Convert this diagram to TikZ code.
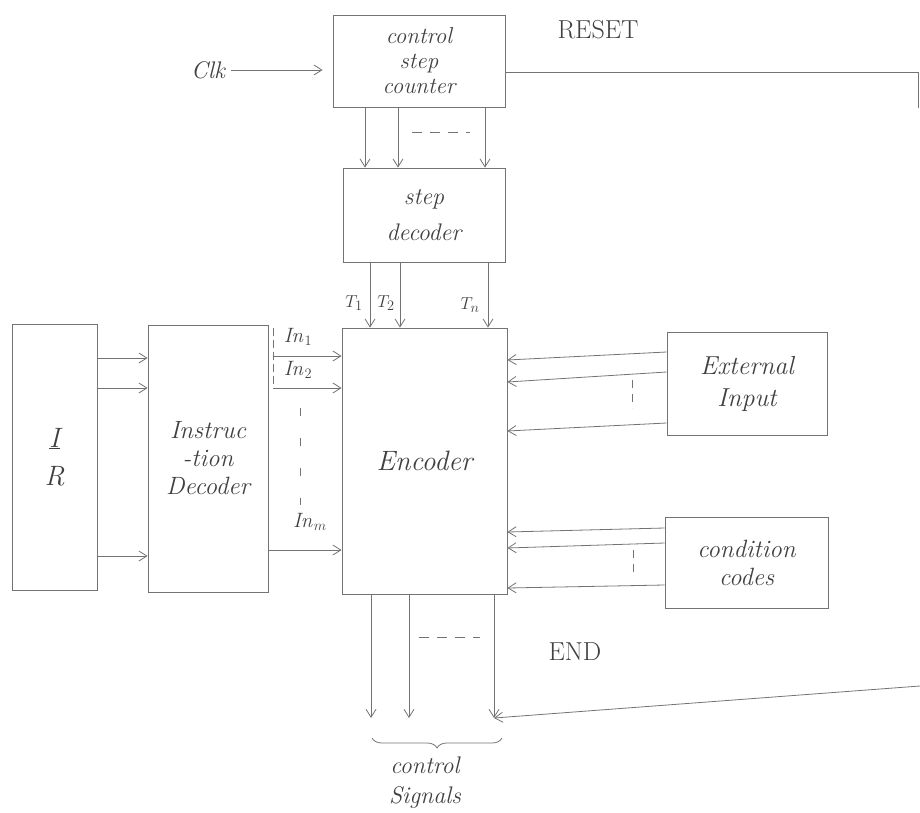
\documentclass[tikz,border=0pt]{standalone}
\usetikzlibrary{arrows.meta,decorations.pathreplacing}
\definecolor{pencil}{gray}{0.45}
\definecolor{ink}{gray}{0.25}
\begin{document}
\begin{tikzpicture}[x=1pt,y=-1pt,
  box/.style={draw=pencil,line width=0.8pt,rectangle,inner sep=0pt,align=center,
    font=\fontsize{25}{28}\selectfont\itshape,text=ink},
  arr/.style={draw=pencil,line width=0.8pt,-{Straight Barb[length=8pt,width=10pt]}},
  ln/.style={draw=pencil,line width=0.8pt},
  dsh/.style={draw=pencil,line width=0.8pt,dash pattern=on 10pt off 8pt},
  lbl/.style={text=ink,font=\fontsize{26}{30}\selectfont,inner sep=0pt}]
\useasboundingbox (0,0) rectangle (920,813);

% boxes
\node[box,minimum width=172,minimum height=92,font=\fontsize{23}{25}\selectfont\itshape] (csc) at (419,61) {control\\step\\counter};
\node[box,minimum width=162,minimum height=94,font=\fontsize{24}{36}\selectfont\itshape] (sd) at (424,215) {step\\decoder};
\node[box,minimum width=165,minimum height=266,font=\fontsize{28}{32}\selectfont\itshape] (enc) at (424.5,461) {Encoder};
\node[box,minimum width=85,minimum height=266,font=\fontsize{28}{32}\selectfont\itshape] (ir) at (54.5,457) {\underline{I}\\[6pt]R};
\node[box,minimum width=120,minimum height=267] (id) at (208,458.5) {Instruc\\-tion\\Decoder};
\node[box,minimum width=160,minimum height=103,font=\fontsize{26}{32}\selectfont\itshape] (ext) at (747,383.5) {External\\Input};
\node[box,minimum width=163,minimum height=91] (cc) at (746.5,562.5) {condition\\codes};

% labels
\node[lbl,font=\fontsize{24}{28}\selectfont\itshape] (clk) at (208,70) {Clk};
\node[lbl] (reset) at (598,30) {RESET};
\node[lbl] (endl) at (575,652) {END};
\node[lbl,font=\fontsize{19}{22}\selectfont] (t1) at (354,303) {$T_1$};
\node[lbl,font=\fontsize{19}{22}\selectfont] (t2) at (386,303) {$T_2$};
\node[lbl,font=\fontsize{19}{22}\selectfont] (tn) at (470,305) {$T_n$};
\node[lbl,font=\fontsize{20}{22}\selectfont] (in1) at (298,337) {$\mathit{In}_1$};
\node[lbl,font=\fontsize{20}{22}\selectfont] (in2) at (298,370) {$\mathit{In}_2$};
\node[lbl,font=\fontsize{20}{22}\selectfont] (inm) at (310,522) {$\mathit{In}_m$};
\node[box,draw=none,font=\fontsize{24}{30}\selectfont\itshape] (cs) at (425,783) {control\\Signals};

% clock
\draw[arr,shorten <=6pt,shorten >=10pt] (clk.east) -- (csc.west |- clk.east);

% counter -> step decoder
\draw[arr] (csc.south -| 365,0) -- (sd.north -| 365,0);
\draw[arr] (csc.south -| 398,0) -- (sd.north -| 398,0);
\draw[arr] (csc.south -| 485,0) -- (sd.north -| 485,0);
\draw[dsh] (412,132) -- (470,132);

% step decoder -> encoder
\draw[arr] (sd.south -| 370,0) -- (enc.north -| 370,0);
\draw[arr] (sd.south -| 400,0) -- (enc.north -| 400,0);
\draw[arr] (sd.south -| 488,0) -- (enc.north -| 488,0);

% IR -> instruction decoder
\draw[arr] (ir.east |- 0,358) -- (id.west |- 0,358);
\draw[arr] (ir.east |- 0,388) -- (id.west |- 0,388);
\draw[arr] (ir.east |- 0,556) -- (id.west |- 0,556);

% instruction decoder -> encoder
\coordinate (b1) at (273,328);
\coordinate (b2) at (273,388);
\draw[ln,dash pattern=on 8pt off 4pt] (b1) -- (b2);
\draw[arr] (b1 |- 0,356) -- (enc.west |- 0,356);
\draw[arr] (b2) -- (enc.west |- 0,388);
\draw[arr] (id.east |- 0,550) -- (enc.west |- 0,550);
\draw[ln,dash pattern=on 8pt off 22pt] (300,408) -- (300,505);

% external input -> encoder
\draw[arr] (ext.west |- 0,352) -- (enc.east |- 0,360);
\draw[arr] (ext.west |- 0,372) -- (enc.east |- 0,382);
\draw[arr] (ext.west |- 0,423) -- (enc.east |- 0,431);
\draw[ln,dash pattern=on 8pt off 6pt] (632,380) -- (632,408);

% condition codes -> encoder
\draw[arr] (cc.west |- 0,528) -- (enc.east |- 0,532);
\draw[arr] (cc.west |- 0,543) -- (enc.east |- 0,548);
\draw[arr] (cc.west |- 0,585) -- (enc.east |- 0,588);
\draw[ln,dash pattern=on 8pt off 6pt] (633,550) -- (633,575);

% encoder outputs
\coordinate (o1) at (371,718);
\coordinate (o2) at (409,718);
\coordinate (o3) at (494,718);
\draw[arr] (enc.south -| o1) -- (o1);
\draw[arr] (enc.south -| o2) -- (o2);
\draw[arr] (enc.south -| o3) -- (o3);
\draw[dsh] (419,637) -- (480,637);
\draw[ln,decorate,decoration={brace,mirror,amplitude=10pt}] (372,738) -- (502,738);

% RESET and END lines
\coordinate (rr) at (918,72);
\coordinate (er) at (920,686);
\draw[ln] (csc.east |- rr) -- (rr) -- (918,108);
\draw[arr] (er) -- (o3);
\end{tikzpicture}
\end{document}
